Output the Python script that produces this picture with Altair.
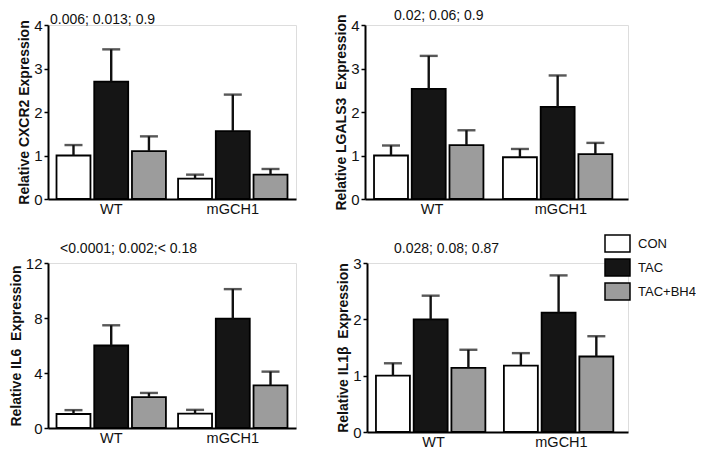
import altair as alt
import pandas as pd

genotypes = ["WT", "mGCH1"]
treatments = ["CON", "TAC", "TAC+BH4"]
fills = ["#ffffff", "#151515", "#9c9c9c"]

cxcr2_mean = [1.00, 2.70, 1.10, 0.47, 1.56, 0.56]
cxcr2_sem = [0.24, 0.74, 0.34, 0.09, 0.84, 0.13]
lgals3_mean = [1.00, 2.53, 1.24, 0.96, 2.12, 1.03]
lgals3_sem = [0.23, 0.76, 0.34, 0.19, 0.72, 0.26]
il6_mean = [1.02, 6.00, 2.25, 1.04, 7.95, 3.10]
il6_sem = [0.28, 1.47, 0.30, 0.28, 2.15, 1.00]
il1b_mean = [1.00, 2.00, 1.14, 1.18, 2.12, 1.34]
il1b_sem = [0.22, 0.42, 0.32, 0.22, 0.66, 0.36]

FONT = "Liberation Sans"

legend = alt.Legend(
    orient="right", offset=-24, title=" ", titleFontSize=10, titlePadding=196,
    symbolType="M-1.064,-0.723H1.064V0.723H-1.064Z", symbolSize=552,
    symbolStrokeColor="black", symbolStrokeWidth=1.5, symbolOpacity=1,
    labelFontSize=13, labelOffset=8, rowPadding=0, labelColor="#111",
    labelFont=FONT, padding=0,
)


def panel(mean, sem, title, dx, toff, ytitle, ymax, yticks, width, height):
    df = pd.DataFrame({
        "genotype": [g for g in genotypes for _ in treatments],
        "treatment": treatments * len(genotypes),
        "mean": mean,
        "sem": sem,
    })
    base = alt.Chart(df).encode(
        x=alt.X("genotype:N", sort=genotypes,
                scale=alt.Scale(paddingInner=0.1, paddingOuter=0.07),
                axis=alt.Axis(title=None, labelAngle=0, ticks=False, labelFontSize=14.5,
                              labelPadding=3, domainWidth=2, domainColor="black",
                              labelColor="#111", labelFont=FONT)),
        xOffset=alt.XOffset("treatment:N", sort=treatments,
                            scale=alt.Scale(paddingInner=0.1, paddingOuter=0)),
    )
    yscale = alt.Scale(domain=[0, ymax], nice=False)
    bars = base.mark_bar(stroke="black", strokeWidth=1.8).encode(
        y=alt.Y("mean:Q", scale=yscale,
                axis=alt.Axis(values=yticks, format="d", title=ytitle,
                              titleFontWeight="bold", titleFontSize=14, titlePadding=2,
                              labelPadding=2, tickSize=4, tickWidth=1.5, tickColor="black",
                              domainWidth=2, domainColor="black", labelFontSize=15,
                              labelColor="#111", titleColor="#111", grid=False,
                              labelFont=FONT, titleFont=FONT)),
        fill=alt.Fill("treatment:N", sort=treatments,
                      scale=alt.Scale(domain=treatments, range=fills), legend=legend),
    )
    err = base.transform_calculate(top="datum.mean + datum.sem").mark_rule(
        color="#111", strokeWidth=2.4).encode(y=alt.Y("mean:Q", scale=yscale), y2="top:Q")
    cap = base.transform_calculate(top="datum.mean + datum.sem").mark_tick(
        color="#111", thickness=2.4, size=18).encode(y=alt.Y("top:Q", scale=yscale))
    return alt.layer(bars, err, cap).properties(
        width=width, height=height,
        title=alt.TitleParams(title, anchor="start", frame="group", dx=dx, fontSize=14,
                              fontWeight="normal", offset=toff, font=FONT, color="#111"),
    )


p1 = panel(cxcr2_mean, cxcr2_sem, "0.006; 0.013; 0.9", 2, -9,
           "Relative CXCR2 Expression", 4, [0, 1, 2, 3, 4], 248, 174)
p2 = panel(lgals3_mean, lgals3_sem, "0.02; 0.06; 0.9", 29, -9,
           "Relative LGALS3\u00a0 Expression", 4, [0, 1, 2, 3, 4], 263, 174)
p3 = panel(il6_mean, il6_sem, "<0.0001; 0.002;< 0.18", 12, 0,
           "Relative IL6\u00a0 Expression", 12, [0, 4, 8, 12], 248, 165)
p4 = panel(il1b_mean, il1b_sem, "0.028; 0.08; 0.87", 27, 0,
           "Relative IL1\u03b2\u00a0 Expression", 3, [0, 1, 2, 3], 261, 169)

chart = alt.vconcat(
    alt.hconcat(p1, p2, spacing=37),
    alt.hconcat(p3, p4, spacing=39),
    spacing=25,
).properties(
    padding={"left": 0, "right": 0, "top": 0, "bottom": 0}
).configure_view(stroke=None).configure(background="white")

chart.save("out.html", embed_options={"renderer": "svg", "actions": False})
